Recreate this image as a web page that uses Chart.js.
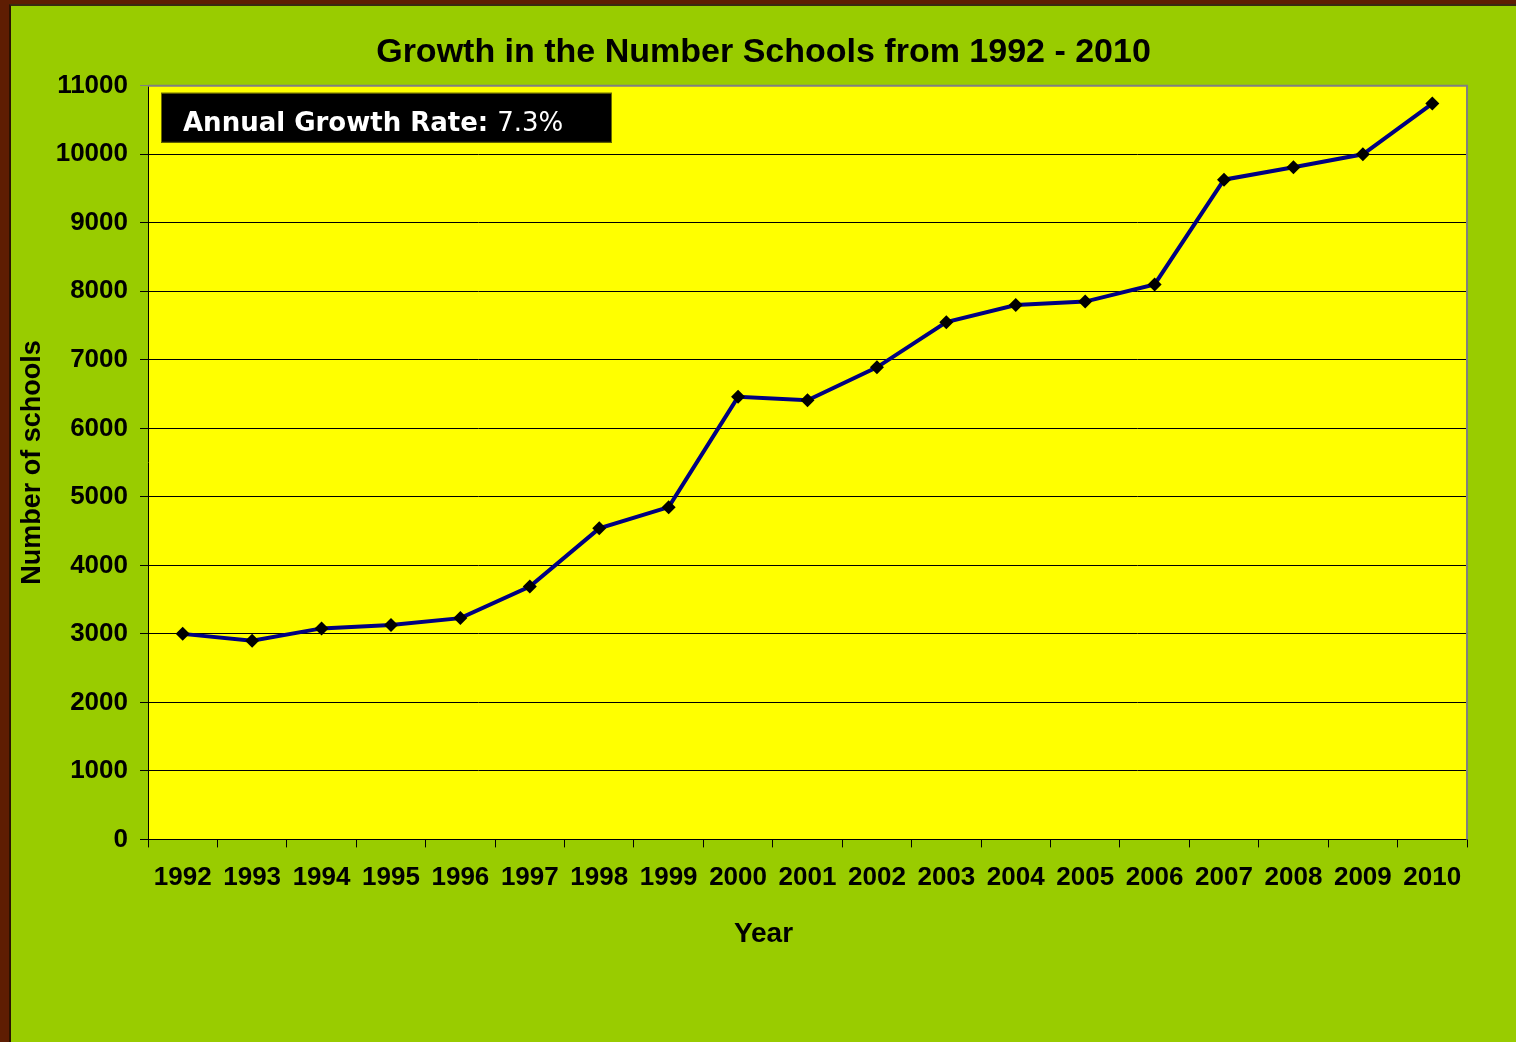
<!DOCTYPE html>
<html>
<head>
<meta charset="utf-8">
<script src="https://cdn.jsdelivr.net/npm/chart.js@4/dist/chart.umd.min.js"></script>
<style>
  html, body { margin: 0; padding: 0; }
  body { background: #5e1d02; width: 1516px; height: 1042px; overflow: hidden; }
  #frame {
    position: absolute; left: 9px; top: 4px;
    width: 1505px; height: 1036px;
    border-left: 2px solid #2b1200; border-top: 2px solid #3a2a10;
    background: #99cc00;
  }
</style>
</head>
<body>
<div id="frame"><canvas id="schoolsChart"></canvas></div>
<script>
// growth in number of schools
const years = ['1992', '1993', '1994', '1995', '1996', '1997', '1998', '1999', '2000', '2001',
               '2002', '2003', '2004', '2005', '2006', '2007', '2008', '2009', '2010'];
const schools = [3000, 2900, 3080, 3130, 3230, 3690, 4540, 4850, 6460, 6410,
                 6890, 7550, 7800, 7850, 8100, 9630, 9810, 10000, 10740];
const yMin = 0;
const yMax = 11000;
const yStep = 1000;
const growthLabel = 'Annual Growth Rate:';
const growthValue = '7.3%';

const fontFamily = 'Arial, "Liberation Sans", sans-serif';

// yellow plot area with gray top/right edge
const plotBackground = {
    id: 'plotBackground',
    beforeDraw(chart) {
        const { ctx, chartArea: a } = chart;
        ctx.save();
        ctx.fillStyle = '#ffff00';
        ctx.fillRect(a.left, a.top, a.right - a.left, a.bottom - a.top);
        ctx.restore();
    },
    beforeDatasetsDraw(chart) {
        const { ctx, chartArea: a } = chart;
        ctx.save();
        ctx.strokeStyle = '#808080';
        ctx.lineWidth = 2;
        ctx.beginPath();
        ctx.moveTo(a.left, a.top);
        ctx.lineTo(a.right, a.top);
        ctx.lineTo(a.right, a.bottom);
        ctx.stroke();
        ctx.restore();
    }
};

// black box with the growth rate text
const growthBox = {
    id: 'growthBox',
    afterDraw(chart) {
        const { ctx, chartArea: a } = chart;
        const x = a.left + 13, y = a.top + 7;
        ctx.save();
        ctx.fillStyle = '#000000';
        ctx.fillRect(x, y, 451, 50);
        ctx.strokeStyle = '#6b6b00';
        ctx.lineWidth = 1;
        ctx.strokeRect(x + 0.5, y + 0.5, 450, 49);
        ctx.fillStyle = '#ffffff';
        ctx.textBaseline = 'alphabetic';
        ctx.font = 'bold 26px Verdana, "DejaVu Sans", sans-serif';
        ctx.fillText(growthLabel, x + 22, y + 38);
        const w = ctx.measureText(growthLabel + ' ').width;
        ctx.font = '26px Verdana, "DejaVu Sans", sans-serif';
        ctx.fillText(growthValue, x + 22 + w, y + 38);
        ctx.restore();
    }
};

const ctx = document.getElementById('schoolsChart').getContext('2d');
const schoolsChart = new Chart(ctx, {
    type: 'line',
    data: {
        labels: years,
        datasets: [
            {
                label: 'Number of schools',
                data: schools,
                borderColor: '#000080',
                borderWidth: 4,
                tension: 0,
                fill: false,
                pointStyle: 'rectRot',
                pointRadius: 7,
                pointBackgroundColor: '#000000',
                pointBorderColor: '#000000',
                pointBorderWidth: 0,
            },
        ],
    },
    options: {
        responsive: true,
        maintainAspectRatio: false,
        animation: false,
        layout: { padding: 0 },
        plugins: {
            legend: { display: false },
            tooltip: { enabled: false },
            title: {
                display: true,
                text: 'Growth in the Number Schools from 1992 - 2010',
                color: '#000000',
                font: { family: fontFamily, size: 34, weight: 'bold', lineHeight: 1.2 },
                padding: { top: 26, bottom: 13 },
            },
            // x axis caption, centred on the whole frame like the original
            subtitle: {
                display: true,
                position: 'bottom',
                text: 'Year',
                color: '#000000',
                font: { family: fontFamily, size: 28, weight: 'bold', lineHeight: 1.2 },
                padding: { top: 0, bottom: 91 },
            },
        },
        scales: {
            x: {
                offset: true,
                grid: { drawOnChartArea: false, offset: true, color: '#000000', tickLength: 8 },
                border: { color: '#000000', width: 1 },
                ticks: {
                    color: '#000000',
                    autoSkip: false,
                    maxRotation: 0,
                    padding: 15,
                    font: { family: fontFamily, size: 26, weight: 'bold' },
                },
                afterFit(scale) { scale.height = 78; },
            },
            y: {
                min: yMin,
                max: yMax,
                grid: {
                    color: (c) => (c.tick && c.tick.value === yMax ? '#808080' : '#000000'),
                    tickLength: 8,
                },
                border: { color: '#000000', width: 1 },
                ticks: {
                    stepSize: yStep,
                    color: '#000000',
                    padding: 12,
                    font: { family: fontFamily, size: 26, weight: 'bold' },
                    callback: (v) => String(v),
                },
                title: {
                    display: true,
                    text: 'Number of schools',
                    color: '#000000',
                    font: { family: fontFamily, size: 27, weight: 'bold', lineHeight: 1.2 },
                    padding: { top: 5, bottom: 0 },
                },
                afterFit(scale) { scale.width = 137; },
            },
            // empty right-hand axis only to keep the right margin
            yRight: {
                position: 'right',
                display: true,
                grid: { display: false },
                border: { display: false },
                ticks: { display: false },
                afterFit(scale) { scale.width = 49; },
            },
        },
    },
    plugins: [plotBackground, growthBox],
});
</script>
</body>
</html>
